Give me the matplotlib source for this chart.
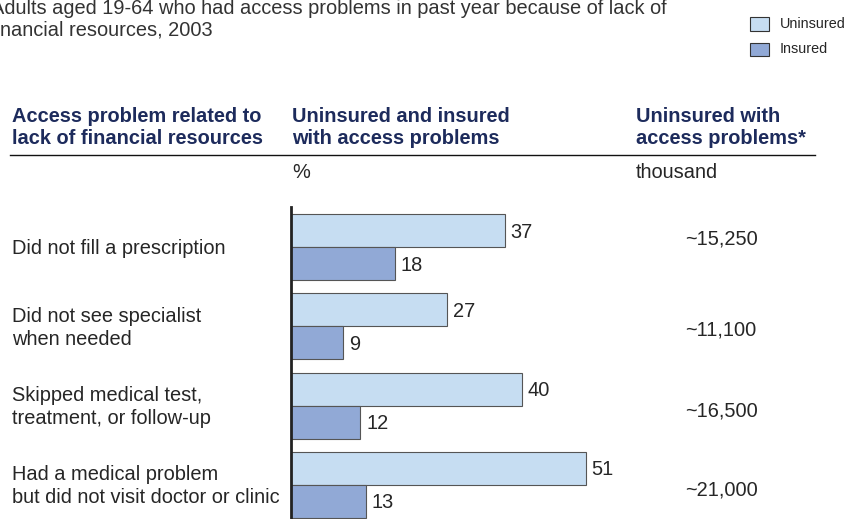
import matplotlib.pyplot as plt
import matplotlib.transforms as mtransforms
import numpy as np

plt.rcParams['font.family'] = ['Liberation Sans', 'DejaVu Sans']

categories = [
    ["Did not fill a prescription"],
    ["Did not see specialist", "when needed"],
    ["Skipped medical test,", "treatment, or follow-up"],
    ["Had a medical problem", "but did not visit doctor or clinic"],
]
uninsured_pct = [37, 27, 40, 51]
insured_pct = [18, 9, 12, 13]
uninsured_thousand = ["~15,250", "~11,100", "~16,500", "~21,000"]

C_UNINS = "#c6ddf2"
C_INS = "#91a9d6"
NAVY = "#1d2b5c"
GRAY = "#262626"
FS = 14.4

W, H = 848, 519
fig = plt.figure(figsize=(W / 100, H / 100), dpi=100)


def fx(px):
    return px / W


def fy(py):
    return 1 - py / H


# title (runs off the left edge)
fig.text(fx(-9), fy(9), "Adults aged 19-64 who had access problems in past year because of lack of",
         fontsize=FS, color="#333333", va="center", ha="left")
fig.text(fx(-10), fy(30), "financial resources, 2003",
         fontsize=FS, color="#333333", va="center", ha="left")

# legend
for py, label, col in [(24, "Uninsured", C_UNINS), (49, "Insured", C_INS)]:
    fig.patches.append(plt.Rectangle((fx(750), fy(py + 6.5)), fx(19), 13 / H,
                                     transform=fig.transFigure, facecolor=col,
                                     edgecolor="#333333", linewidth=0.8))
    fig.text(fx(780), fy(py), label, fontsize=10.4, color=GRAY, va="center", ha="left")

# column headers
hdr = dict(fontsize=FS, color=NAVY, fontweight="bold", va="center", ha="left")
for px, lines in [(12, ["Access problem related to", "lack of financial resources"]),
                  (292, ["Uninsured and insured", "with access problems"]),
                  (636, ["Uninsured with", "access problems*"])]:
    fig.text(fx(px), fy(116), lines[0], **hdr)
    fig.text(fx(px), fy(138), lines[1], **hdr)
fig.add_artist(plt.Line2D([fx(10), fx(815)], [fy(155), fy(155)], color="#111111", linewidth=1.0))
fig.text(fx(292), fy(172), "%", fontsize=FS, color=GRAY, va="center", ha="left")
fig.text(fx(636), fy(172), "thousand", fontsize=FS, color=GRAY, va="center", ha="left")

# bar panel
ax = fig.add_axes([fx(291), 0, fx(578), (H - 207) / H])
y = np.arange(len(categories))
bh = 0.416
ax.barh(y - bh / 2, uninsured_pct, height=bh, color=C_UNINS, edgecolor="#555555", linewidth=0.8)
ax.barh(y + bh / 2, insured_pct, height=bh, color=C_INS, edgecolor="#555555", linewidth=0.8)

ax.set_xlim(0, 100)
ax.set_ylim(3.43, -0.504)

label_tr = mtransforms.blended_transform_factory(fig.transFigure, ax.transData)
# vertical nudge (pixels) for the thousand column
value_dy = [-8, 4, 5, 5]
for i in range(len(categories)):
    ax.text(uninsured_pct[i] + 1.0, y[i] - bh / 2 + 0.02, str(uninsured_pct[i]),
            fontsize=FS, color=GRAY, va="center", ha="left")
    ax.text(insured_pct[i] + 1.0, y[i] + bh / 2 + 0.02, str(insured_pct[i]),
            fontsize=FS, color=GRAY, va="center", ha="left")
    lines = categories[i]
    n = len(lines)
    for k, line in enumerate(lines):
        dy = (k - (n - 1) / 2) * 23
        tr = mtransforms.offset_copy(label_tr, fig=fig, y=-dy, units="dots")
        ax.text(fx(12), y[i] + 0.02, line, transform=tr, fontsize=FS, color=GRAY,
                va="center", ha="left", clip_on=False)
    tr = mtransforms.offset_copy(label_tr, fig=fig, y=-value_dy[i], units="dots")
    ax.text(fx(721), y[i], uninsured_thousand[i], transform=tr, fontsize=FS,
            color=GRAY, va="center", ha="center", clip_on=False)

for s in ["top", "right", "bottom"]:
    ax.spines[s].set_visible(False)
ax.spines["left"].set_linewidth(2)
ax.spines["left"].set_color("#222222")
ax.set_xticks([])
ax.set_yticks([])
ax.patch.set_alpha(0)

fig.savefig("out.png", dpi=100)
